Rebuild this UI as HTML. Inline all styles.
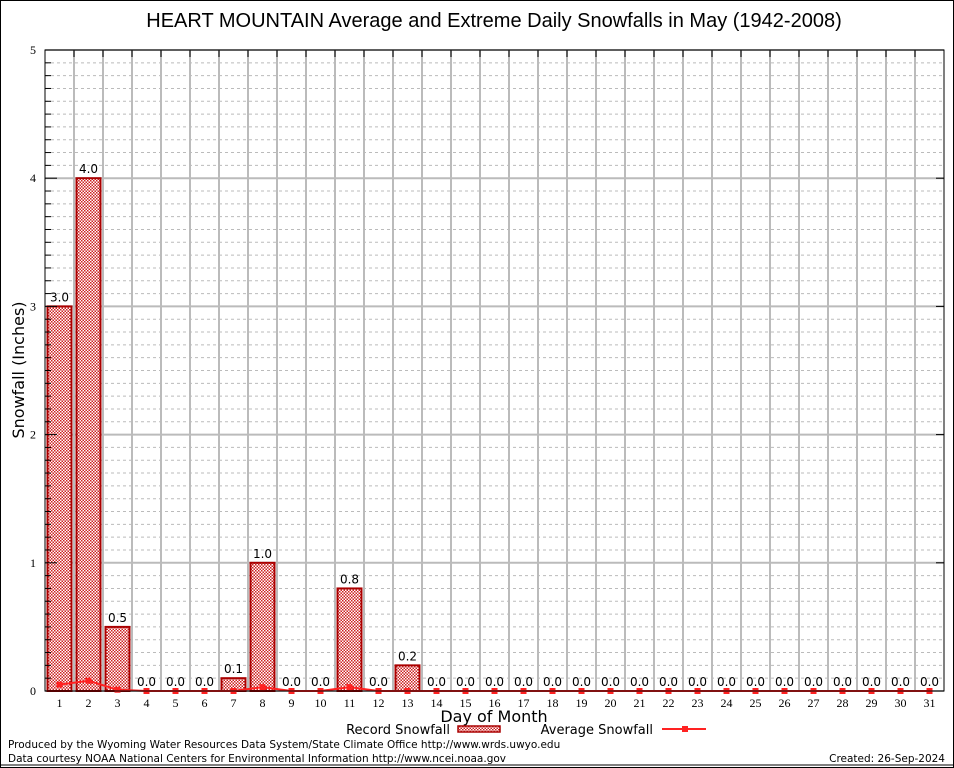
<!DOCTYPE html>
<html><head><meta charset="utf-8"><style>
body{margin:0;background:#fff}
svg{display:block;font-family:"DejaVu Sans","Liberation Sans",sans-serif}
</style></head><body>
<svg id="chart" width="954" height="768" viewBox="0 0 954 768">
<defs><pattern id="hatch" width="3" height="3" patternUnits="userSpaceOnUse">
<rect width="3" height="3" fill="#fff"/><rect width="1.5" height="1.5" fill="#c22"/><rect x="1.5" y="1.5" width="1.5" height="1.5" fill="#c22"/></pattern></defs>
<rect x="0.5" y="0.5" width="953" height="767" fill="#fff" stroke="#000"/>
<text x="494" y="27" font-size="20" text-anchor="middle" font-family="Liberation Sans, sans-serif">HEART MOUNTAIN Average and Extreme Daily Snowfalls in May (1942-2008)</text>
<g id="grid"></g><g id="bars"></g><g id="avg"></g><g id="axes"></g>
<text x="24" y="370" font-size="16" text-anchor="middle" transform="rotate(-90 24 370)">Snowfall (Inches)</text>
<text x="494" y="722" font-size="16" text-anchor="middle">Day of Month</text>
<g>
<text x="450" y="734" font-size="13" text-anchor="end">Record Snowfall</text>
<rect x="458" y="726" width="42" height="6" fill="url(#hatch)" stroke="#a00" stroke-width="1.5"/>
<text x="653" y="734" font-size="13" text-anchor="end">Average Snowfall</text>
<line x1="662" y1="729" x2="706" y2="729" stroke="#f22" stroke-width="2"/>
<rect x="682" y="726" width="6" height="6" fill="#f22"/>
</g>
<text x="8" y="748" font-size="10.5">Produced by the Wyoming Water Resources Data System/State Climate Office http://www.wrds.uwyo.edu</text>
<text x="8" y="762" font-size="10.5">Data courtesy NOAA National Centers for Environmental Information http://www.ncei.noaa.gov</text>
<text x="945" y="762" font-size="10.5" text-anchor="end">Created:  26-Sep-2024</text>
<line x1="0" y1="765" x2="954" y2="765" stroke="#000"/>
</svg>
<script>
const days=[1,2,3,4,5,6,7,8,9,10,11,12,13,14,15,16,17,18,19,20,21,22,23,24,25,26,27,28,29,30,31];
const records=[3.0,4.0,0.5,0,0,0,0.1,1.0,0,0,0.8,0,0.2,0,0,0,0,0,0,0,0,0,0,0,0,0,0,0,0,0,0];
const averages=[0.05,0.08,0.01,0,0,0,0,0.03,0,0,0.03,0,0,0,0,0,0,0,0,0,0,0,0,0,0,0,0,0,0,0,0];
const yTicks=[0,1,2,3,4,5];
const L=45,R=944,T=50,B=691,yMax=5;
const dw=(R-L)/days.length;
const xC=d=>L+(d-0.5)*dw;
const y=v=>B-(v/yMax)*(B-T);
const NS="http://www.w3.org/2000/svg";
function mk(parent,tag,attrs){const e=document.createElementNS(NS,tag);for(const k in attrs)e.setAttribute(k,attrs[k]);document.getElementById(parent).appendChild(e);return e;}
for(let v=0.1;v<yMax-0.01;v+=0.1){if(Math.abs(v-Math.round(v))<0.01)continue;
 const e=mk('grid','line',{x1:L,x2:R,y1:y(v),y2:y(v),stroke:'#bbb','stroke-dasharray':'3,3'});
 
 
 const t=mk('axes','line',{x1:L,x2:L+6,y1:y(v),y2:y(v),stroke:'#000'});
 
 }
yTicks.forEach(v=>{
 const e=mk('grid','line',{x1:L,x2:R,y1:y(v),y2:y(v),stroke:'#bbb','stroke-width':2});
 
 
 const tk=mk('axes','line',{x1:L,x2:L+12,y1:y(v),y2:y(v),stroke:'#000'});
 
 
 const tk2=mk('axes','line',{x1:R-8,x2:R,y1:y(v),y2:y(v),stroke:'#000'});
 
 
 const t=mk('axes','text',{x:L-9,y:y(v)+4,'font-size':12,'text-anchor':'end','font-family':'Liberation Serif, serif'});
 t.textContent=v;
 
 });
for(let i=1;i<days.length;i++){const x=L+i*dw;
 const e=mk('grid','line',{x1:x,x2:x,y1:T,y2:B,stroke:'#bbb','stroke-width':2});
 
 
 const t=mk('axes','line',{x1:x,x2:x,y1:T,y2:T+7,stroke:'#000'});
 
 }
days.forEach((d,i)=>{
 const v=records[i];
 if(v>0){const b=mk('bars','rect',{x:xC(d)-12,y:y(v),width:24,height:B-y(v),fill:'url(#hatch)',stroke:'#a00','stroke-width':2});
  
  }
 const lb=mk('bars','text',{x:xC(d),y:y(v)-5,'font-size':12,'text-anchor':'middle'});
 lb.textContent=v.toFixed(1);
 
 
 const xt=mk('axes','text',{x:xC(d),y:B+16,'font-size':12,'text-anchor':'middle','font-family':'Liberation Serif, serif'});
 xt.textContent=d;
 
 });
const pts=days.map((d,i)=>xC(d)+','+y(averages[i])).join(' ');
const pl=mk('avg','polyline',{points:pts,fill:'none',stroke:'#f22','stroke-width':2});


days.forEach((d,i)=>{const m=mk('avg','rect',{x:xC(d)-3,y:y(averages[i])-3,width:6,height:6,fill:'#f22'});
 
 });
const fr=mk('axes','rect',{x:L,y:T,width:R-L,height:B-T,fill:'none',stroke:'#000'});


</script>
</body></html>
